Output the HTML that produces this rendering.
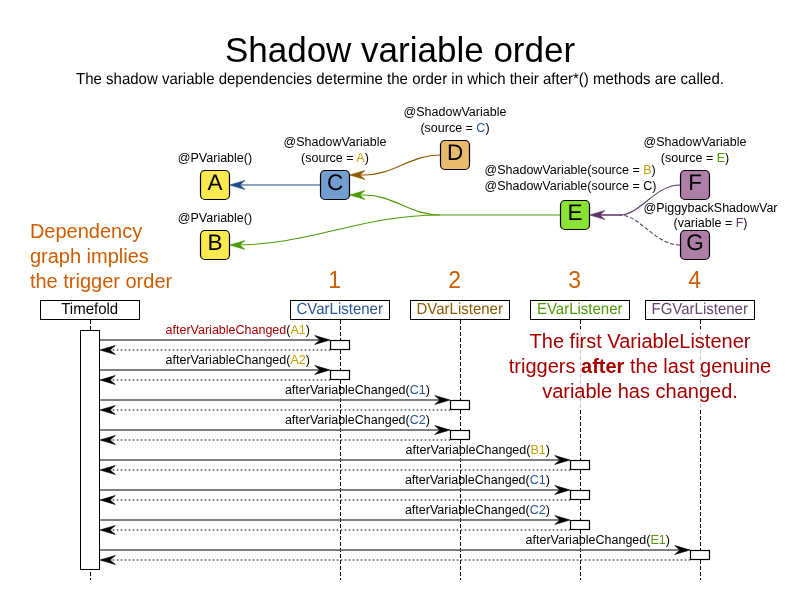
<!DOCTYPE html>
<html><head><meta charset="utf-8"><title>Shadow variable order</title>
<style>html,body{margin:0;padding:0;background:#fff;}body{width:800px;height:600px;overflow:hidden;}svg{display:block;will-change:transform;}text{font-family:"Liberation Sans", sans-serif;}</style>
</head><body>
<svg width="800" height="600" viewBox="0 0 800 600">
<rect x="0" y="0" width="800" height="600" fill="#ffffff"/>
<text x="400" y="62" font-size="35" text-anchor="middle" fill="#000">Shadow variable order</text>
<text style="text-rendering:geometricPrecision" transform="translate(400,84) scale(1,1.066)" font-size="15" text-anchor="middle" fill="#000">The shadow variable dependencies determine the order in which their after*() methods are called.</text>
<g fill="none" stroke-width="1.05">
<path d="M350,185 L235,185" stroke="#204a87"/>
<path d="M440,155 C410,155 394,175 364,175 L355,175" stroke="#8f5902"/>
<path d="M560,215 L440,215 C410,215 394,195 364,195 L355,195" stroke="#4e9a06"/>
<path d="M440,215 C362,215 309,245 235,245" stroke="#4e9a06"/>
<path d="M680,185 C655,185 640,215 620,215 L595,215" stroke="#5c3566"/>
<path d="M680,245 C655,245 640,215 620,215" stroke="#5c3566" stroke-dasharray="4,2"/>
<path d="M621,215 L595,215" stroke="#5c3566"/>
</g>
<path d="M229.70,185.00 L245.00,180.50 Q242.10,183.00 239.90,185.00 Q242.10,187.00 245.00,189.50 Z" fill="#204a87" stroke="#204a87" stroke-width="0.6" stroke-linejoin="round"/>
<path d="M349.70,175.00 L365.00,170.50 Q362.10,173.00 359.90,175.00 Q362.10,177.00 365.00,179.50 Z" fill="#8f5902" stroke="#8f5902" stroke-width="0.6" stroke-linejoin="round"/>
<path d="M349.70,195.00 L365.00,190.50 Q362.10,193.00 359.90,195.00 Q362.10,197.00 365.00,199.50 Z" fill="#4e9a06" stroke="#4e9a06" stroke-width="0.6" stroke-linejoin="round"/>
<path d="M229.70,245.00 L245.00,240.50 Q242.10,243.00 239.90,245.00 Q242.10,247.00 245.00,249.50 Z" fill="#4e9a06" stroke="#4e9a06" stroke-width="0.6" stroke-linejoin="round"/>
<path d="M589.70,215.00 L605.00,210.50 Q602.10,213.00 599.90,215.00 Q602.10,217.00 605.00,219.50 Z" fill="#5c3566" stroke="#5c3566" stroke-width="0.6" stroke-linejoin="round"/>
<rect x="200.5" y="170.5" width="29" height="29" rx="4.5" ry="4.5" fill="#fce94f" stroke="#000" stroke-width="1.2"/>
<text style="text-rendering:geometricPrecision" x="215" y="190.0" font-size="22.5" text-anchor="middle" fill="#000">A</text>
<rect x="200.5" y="230.5" width="29" height="29" rx="4.5" ry="4.5" fill="#fce94f" stroke="#000" stroke-width="1.2"/>
<text style="text-rendering:geometricPrecision" x="215" y="250.0" font-size="22.5" text-anchor="middle" fill="#000">B</text>
<rect x="320.5" y="170.5" width="29" height="29" rx="4.5" ry="4.5" fill="#729fcf" stroke="#000" stroke-width="1.2"/>
<text style="text-rendering:geometricPrecision" x="335" y="190.0" font-size="22.5" text-anchor="middle" fill="#000">C</text>
<rect x="440.5" y="140.5" width="29" height="29" rx="4.5" ry="4.5" fill="#e9b96e" stroke="#000" stroke-width="1.2"/>
<text style="text-rendering:geometricPrecision" x="455" y="160.0" font-size="22.5" text-anchor="middle" fill="#000">D</text>
<rect x="560.5" y="200.5" width="29" height="29" rx="4.5" ry="4.5" fill="#8ae234" stroke="#000" stroke-width="1.2"/>
<text style="text-rendering:geometricPrecision" x="575" y="220.0" font-size="22.5" text-anchor="middle" fill="#000">E</text>
<rect x="680.5" y="170.5" width="29" height="29" rx="4.5" ry="4.5" fill="#ad7fa8" stroke="#000" stroke-width="1.2"/>
<text style="text-rendering:geometricPrecision" x="695" y="190.0" font-size="22.5" text-anchor="middle" fill="#000">F</text>
<rect x="680.5" y="230.5" width="29" height="29" rx="4.5" ry="4.5" fill="#ad7fa8" stroke="#000" stroke-width="1.2"/>
<text style="text-rendering:geometricPrecision" x="695" y="250.0" font-size="22.5" text-anchor="middle" fill="#000">G</text>
<text x="215" y="162" font-size="12.5" text-anchor="middle" fill="#000">@PVariable()</text>
<text x="215" y="222" font-size="12.5" text-anchor="middle" fill="#000">@PVariable()</text>
<text x="335" y="146" font-size="12.5" text-anchor="middle" fill="#000">@ShadowVariable</text>
<text x="335" y="162" font-size="12.5" text-anchor="middle" fill="#000">(source = <tspan fill="#c4a000">A</tspan>)</text>
<text x="455" y="116" font-size="12.5" text-anchor="middle" fill="#000">@ShadowVariable</text>
<text x="455" y="132" font-size="12.5" text-anchor="middle" fill="#000">(source = <tspan fill="#2a5595">C</tspan>)</text>
<text x="695" y="146" font-size="12.5" text-anchor="middle" fill="#000">@ShadowVariable</text>
<text x="695" y="162" font-size="12.5" text-anchor="middle" fill="#000">(source = <tspan fill="#4e9a06">E</tspan>)</text>
<text x="484.5" y="174" font-size="12.5" text-anchor="start" fill="#000">@ShadowVariable(source = <tspan fill="#c4a000">B</tspan>)</text>
<text x="484.5" y="190" font-size="12.5" text-anchor="start" fill="#000">@ShadowVariable(source = C)</text>
<text x="710.5" y="212" font-size="12.5" text-anchor="middle" fill="#000">@PiggybackShadowVar</text>
<text x="710.5" y="227" font-size="12.5" text-anchor="middle" fill="#000">(variable = <tspan fill="#5c3566">F</tspan>)</text>
<text x="29.9" y="238.0" font-size="20" fill="#ce5c00">Dependency</text>
<text x="29.9" y="263.0" font-size="20" fill="#ce5c00">graph implies</text>
<text x="29.9" y="288.0" font-size="20" fill="#ce5c00">the trigger order</text>
<text x="334.7" y="288" font-size="23" text-anchor="middle" fill="#ce5c00">1</text>
<text x="454.7" y="288" font-size="23" text-anchor="middle" fill="#ce5c00">2</text>
<text x="574.7" y="288" font-size="23" text-anchor="middle" fill="#ce5c00">3</text>
<text x="694.7" y="288" font-size="23" text-anchor="middle" fill="#ce5c00">4</text>
<g stroke="#000" stroke-width="1" stroke-dasharray="4,2" fill="none">
<path d="M90.5,320 L90.5,580"/>
<path d="M340.5,320 L340.5,580"/>
<path d="M460.5,320 L460.5,580"/>
<path d="M580.5,320 L580.5,580"/>
<path d="M700.5,320 L700.5,580"/>
</g>
<rect x="505" y="329" width="270" height="79" fill="#ffffff" fill-opacity="0.8"/>
<g font-size="20" text-anchor="middle" fill="#a40000">
<text x="640" y="348">The first VariableListener</text>
<text x="640" y="373">triggers <tspan font-weight="bold">after</tspan> the last genuine</text>
<text x="640" y="398">variable has changed.</text>
</g>
<rect x="40.5" y="300.5" width="99" height="19" fill="#fff" stroke="#000" stroke-width="1"/>
<text style="text-rendering:geometricPrecision" transform="translate(89.7,314) scale(1,1.066)" font-size="15" text-anchor="middle" fill="#000000">Timefold</text>
<rect x="290.5" y="300.5" width="99" height="19" fill="#fff" stroke="#000" stroke-width="1"/>
<text style="text-rendering:geometricPrecision" transform="translate(339.7,314) scale(1,1.066)" font-size="15" text-anchor="middle" fill="#2a5595">CVarListener</text>
<rect x="410.5" y="300.5" width="99" height="19" fill="#fff" stroke="#000" stroke-width="1"/>
<text style="text-rendering:geometricPrecision" transform="translate(459.7,314) scale(1,1.066)" font-size="15" text-anchor="middle" fill="#8f5902">DVarListener</text>
<rect x="530.5" y="300.5" width="99" height="19" fill="#fff" stroke="#000" stroke-width="1"/>
<text style="text-rendering:geometricPrecision" transform="translate(579.7,314) scale(1,1.066)" font-size="15" text-anchor="middle" fill="#4e9a06">EVarListener</text>
<rect x="645.5" y="300.5" width="109" height="19" fill="#fff" stroke="#000" stroke-width="1"/>
<text style="text-rendering:geometricPrecision" transform="translate(699.7,314) scale(1,1.066)" font-size="15" text-anchor="middle" fill="#694471">FGVarListener</text>
<rect x="80.5" y="330.5" width="19" height="239" fill="#fff" stroke="#000" stroke-width="1"/>
<path d="M100,340 L320,340" stroke="#555555" stroke-width="1.56" fill="none"/>
<path d="M112.7,350 L330,350" stroke="#555555" stroke-width="1.56" stroke-dasharray="1.6,2.4" fill="none"/>
<path d="M330.00,340.00 L314.70,335.50 Q317.60,338.00 319.80,340.00 Q317.60,342.00 314.70,344.50 Z" fill="#000" stroke="#000" stroke-width="0.6" stroke-linejoin="round"/>
<path d="M100.00,350.00 L115.30,345.50 Q112.40,348.00 110.20,350.00 Q112.40,352.00 115.30,354.50 Z" fill="#000" stroke="#000" stroke-width="0.6" stroke-linejoin="round"/>
<rect x="330.5" y="340.5" width="19" height="9" fill="#fff" stroke="#000" stroke-width="1.2"/>
<text x="309.9" y="334.0" font-size="12.5" text-anchor="end" fill="#000"><tspan fill="#a40000">afterVariableChanged</tspan>(<tspan fill="#c4a000">A1</tspan>)</text>
<path d="M100,370 L320,370" stroke="#555555" stroke-width="1.56" fill="none"/>
<path d="M112.7,380 L330,380" stroke="#555555" stroke-width="1.56" stroke-dasharray="1.6,2.4" fill="none"/>
<path d="M330.00,370.00 L314.70,365.50 Q317.60,368.00 319.80,370.00 Q317.60,372.00 314.70,374.50 Z" fill="#000" stroke="#000" stroke-width="0.6" stroke-linejoin="round"/>
<path d="M100.00,380.00 L115.30,375.50 Q112.40,378.00 110.20,380.00 Q112.40,382.00 115.30,384.50 Z" fill="#000" stroke="#000" stroke-width="0.6" stroke-linejoin="round"/>
<rect x="330.5" y="370.5" width="19" height="9" fill="#fff" stroke="#000" stroke-width="1.2"/>
<text x="309.9" y="364.0" font-size="12.5" text-anchor="end" fill="#000"><tspan fill="#000">afterVariableChanged</tspan>(<tspan fill="#c4a000">A2</tspan>)</text>
<path d="M100,400 L440,400" stroke="#555555" stroke-width="1.56" fill="none"/>
<path d="M112.7,410 L450,410" stroke="#555555" stroke-width="1.56" stroke-dasharray="1.6,2.4" fill="none"/>
<path d="M450.00,400.00 L434.70,395.50 Q437.60,398.00 439.80,400.00 Q437.60,402.00 434.70,404.50 Z" fill="#000" stroke="#000" stroke-width="0.6" stroke-linejoin="round"/>
<path d="M100.00,410.00 L115.30,405.50 Q112.40,408.00 110.20,410.00 Q112.40,412.00 115.30,414.50 Z" fill="#000" stroke="#000" stroke-width="0.6" stroke-linejoin="round"/>
<rect x="450.5" y="400.5" width="19" height="9" fill="#fff" stroke="#000" stroke-width="1.2"/>
<text x="429.9" y="394.0" font-size="12.5" text-anchor="end" fill="#000"><tspan fill="#000">afterVariableChanged</tspan>(<tspan fill="#2a5595">C1</tspan>)</text>
<path d="M100,430 L440,430" stroke="#555555" stroke-width="1.56" fill="none"/>
<path d="M112.7,440 L450,440" stroke="#555555" stroke-width="1.56" stroke-dasharray="1.6,2.4" fill="none"/>
<path d="M450.00,430.00 L434.70,425.50 Q437.60,428.00 439.80,430.00 Q437.60,432.00 434.70,434.50 Z" fill="#000" stroke="#000" stroke-width="0.6" stroke-linejoin="round"/>
<path d="M100.00,440.00 L115.30,435.50 Q112.40,438.00 110.20,440.00 Q112.40,442.00 115.30,444.50 Z" fill="#000" stroke="#000" stroke-width="0.6" stroke-linejoin="round"/>
<rect x="450.5" y="430.5" width="19" height="9" fill="#fff" stroke="#000" stroke-width="1.2"/>
<text x="429.9" y="424.0" font-size="12.5" text-anchor="end" fill="#000"><tspan fill="#000">afterVariableChanged</tspan>(<tspan fill="#2a5595">C2</tspan>)</text>
<path d="M100,460 L560,460" stroke="#555555" stroke-width="1.56" fill="none"/>
<path d="M112.7,470 L570,470" stroke="#555555" stroke-width="1.56" stroke-dasharray="1.6,2.4" fill="none"/>
<path d="M570.00,460.00 L554.70,455.50 Q557.60,458.00 559.80,460.00 Q557.60,462.00 554.70,464.50 Z" fill="#000" stroke="#000" stroke-width="0.6" stroke-linejoin="round"/>
<path d="M100.00,470.00 L115.30,465.50 Q112.40,468.00 110.20,470.00 Q112.40,472.00 115.30,474.50 Z" fill="#000" stroke="#000" stroke-width="0.6" stroke-linejoin="round"/>
<rect x="570.5" y="460.5" width="19" height="9" fill="#fff" stroke="#000" stroke-width="1.2"/>
<text x="549.9" y="454.0" font-size="12.5" text-anchor="end" fill="#000"><tspan fill="#000">afterVariableChanged</tspan>(<tspan fill="#c4a000">B1</tspan>)</text>
<path d="M100,490 L560,490" stroke="#555555" stroke-width="1.56" fill="none"/>
<path d="M112.7,500 L570,500" stroke="#555555" stroke-width="1.56" stroke-dasharray="1.6,2.4" fill="none"/>
<path d="M570.00,490.00 L554.70,485.50 Q557.60,488.00 559.80,490.00 Q557.60,492.00 554.70,494.50 Z" fill="#000" stroke="#000" stroke-width="0.6" stroke-linejoin="round"/>
<path d="M100.00,500.00 L115.30,495.50 Q112.40,498.00 110.20,500.00 Q112.40,502.00 115.30,504.50 Z" fill="#000" stroke="#000" stroke-width="0.6" stroke-linejoin="round"/>
<rect x="570.5" y="490.5" width="19" height="9" fill="#fff" stroke="#000" stroke-width="1.2"/>
<text x="549.9" y="484.0" font-size="12.5" text-anchor="end" fill="#000"><tspan fill="#000">afterVariableChanged</tspan>(<tspan fill="#2a5595">C1</tspan>)</text>
<path d="M100,520 L560,520" stroke="#555555" stroke-width="1.56" fill="none"/>
<path d="M112.7,530 L570,530" stroke="#555555" stroke-width="1.56" stroke-dasharray="1.6,2.4" fill="none"/>
<path d="M570.00,520.00 L554.70,515.50 Q557.60,518.00 559.80,520.00 Q557.60,522.00 554.70,524.50 Z" fill="#000" stroke="#000" stroke-width="0.6" stroke-linejoin="round"/>
<path d="M100.00,530.00 L115.30,525.50 Q112.40,528.00 110.20,530.00 Q112.40,532.00 115.30,534.50 Z" fill="#000" stroke="#000" stroke-width="0.6" stroke-linejoin="round"/>
<rect x="570.5" y="520.5" width="19" height="9" fill="#fff" stroke="#000" stroke-width="1.2"/>
<text x="549.9" y="514.0" font-size="12.5" text-anchor="end" fill="#000"><tspan fill="#000">afterVariableChanged</tspan>(<tspan fill="#2a5595">C2</tspan>)</text>
<path d="M100,550 L680,550" stroke="#555555" stroke-width="1.56" fill="none"/>
<path d="M112.7,560 L690,560" stroke="#555555" stroke-width="1.56" stroke-dasharray="1.6,2.4" fill="none"/>
<path d="M690.00,550.00 L674.70,545.50 Q677.60,548.00 679.80,550.00 Q677.60,552.00 674.70,554.50 Z" fill="#000" stroke="#000" stroke-width="0.6" stroke-linejoin="round"/>
<path d="M100.00,560.00 L115.30,555.50 Q112.40,558.00 110.20,560.00 Q112.40,562.00 115.30,564.50 Z" fill="#000" stroke="#000" stroke-width="0.6" stroke-linejoin="round"/>
<rect x="690.5" y="550.5" width="19" height="9" fill="#fff" stroke="#000" stroke-width="1.2"/>
<text x="669.9" y="544.0" font-size="12.5" text-anchor="end" fill="#000"><tspan fill="#000">afterVariableChanged</tspan>(<tspan fill="#4e9a06">E1</tspan>)</text>
</svg>
</body></html>
